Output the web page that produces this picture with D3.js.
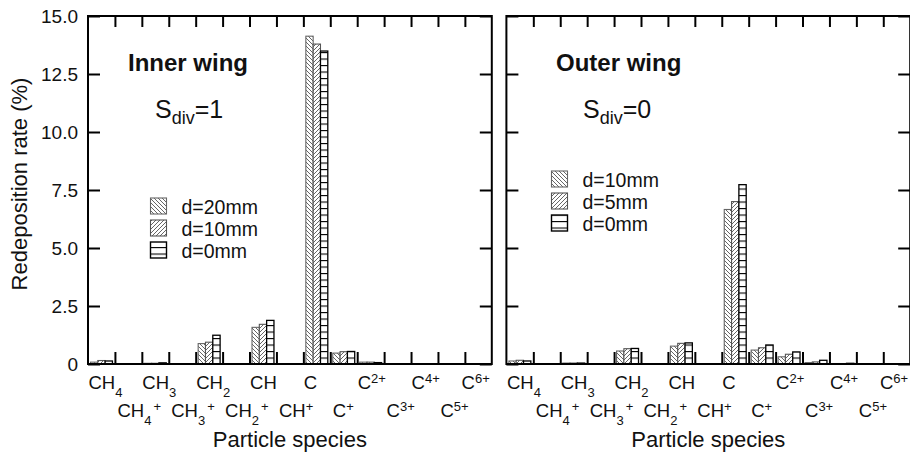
<!DOCTYPE html>
<html><head><meta charset="utf-8">
<script src="https://cdn.jsdelivr.net/npm/d3@7/dist/d3.min.js"></script>
<style>
html,body{margin:0;padding:0;background:#fff;}
svg{display:block;font-family:"Liberation Sans",Arial,Helvetica,sans-serif;}
</style></head>
<body>
<svg id="chart" width="910" height="457"></svg>
<script>
// ---- data ----
const categories = ["CH4","CH4+","CH3","CH3+","CH2","CH2+","CH","CH+","C","C+","C2+","C3+","C4+","C5+","C6+"];
const labelBase = ["CH","CH","CH","CH","CH","CH","CH","CH","C","C","C","C","C","C","C"];
const labelSub  = ["4","4","3","3","2","2","","","","","","","","",""];
const labelSup  = ["","+","","+","","+","","+","","+","2+","3+","4+","5+","6+"];

const innerSeriesNames = ["d=20mm","d=10mm","d=0mm"];
const innerD20 = [0.08,0,0.03,0,0.88,0,1.58,0,14.13,0.47,0.08,0,0,0,0];
const innerD10 = [0.15,0,0.03,0,0.94,0,1.71,0,13.79,0.53,0.08,0,0,0,0];
const innerD0  = [0.13,0,0.05,0,1.24,0,1.88,0,13.49,0.54,0.06,0,0,0,0];

const outerSeriesNames = ["d=10mm","d=5mm","d=0mm"];
const outerD10 = [0.13,0,0.04,0,0.56,0,0.77,0,6.66,0.60,0.31,0.06,0.02,0,0];
const outerD5  = [0.16,0,0.04,0,0.66,0,0.89,0,7.00,0.70,0.42,0.09,0.02,0,0];
const outerD0  = [0.13,0,0.04,0,0.67,0,0.91,0,7.73,0.82,0.52,0.16,0.03,0,0];

const yTicks = [0,2.5,5,7.5,10,12.5,15];
const yTickLabels = ["0","2.5","5.0","7.5","10.0","12.5","15.0"];

// ---- layout ----
const svg = d3.select("#chart");
const plotTop = 16, plotBottom = 364, panelW = 403.8;
const y = d3.scaleLinear().domain([0,15]).range([plotBottom, plotTop]);

const defs = svg.append("defs");
function hatch(id, pathD, w, h, color, sw){
  const p = defs.append("pattern").attr("id", id).attr("patternUnits","userSpaceOnUse")
    .attr("width", w).attr("height", h);
  p.append("rect").attr("width", w).attr("height", h).attr("fill","#fff");
  p.append("path").attr("d", pathD).attr("stroke", color).attr("stroke-width", sw).attr("fill","none");
}
hatch("hBack", "M0,0 L4,4 M-1,3 L1,5 M3,-1 L5,1", 4, 4, "#555", 0.9);
hatch("hFwd",  "M0,4 L4,0 M-1,1 L1,-1 M3,5 L5,3", 4, 4, "#555", 0.9);
hatch("hHor",  "M0,0.5 L8,0.5", 8, 6.5, "#000", 1.2);
const fills = ["url(#hBack)","url(#hFwd)","url(#hHor)"];
const strokes = ["#666","#555","#000"];

function drawPanel(x0, series, names, title, sdiv, titleX, sdivX, legendX, legendY, showYLabels){
  const g = svg.append("g");
  const x = d3.scaleBand().domain(categories).range([x0, x0+panelW]).padding(0);
  const xs = d3.scaleBand().domain([0,1,2]).range([0, x.bandwidth()]).paddingInner(0).paddingOuter(0.34);
  const xi = d3.scaleLinear().domain([0, categories.length]).range([x0, x0+panelW]);

  // bars
  series.forEach((vals, si) => {
    g.append("g").selectAll("rect").data(vals.map((v,i)=>({v, c: categories[i]})).filter(d=>d.v>0))
      .join("rect")
      .attr("x", d => x(d.c) + xs(si))
      .attr("y", d => y(d.v))
      .attr("width", xs.bandwidth())
      .attr("height", d => y(0) - y(d.v))
      .attr("fill", fills[si])
      .attr("stroke", strokes[si])
      .attr("stroke-width", si===2 ? 1.3 : 1.1);
  });

  // y axes (inward ticks)
  const ya = g.append("g").attr("transform", `translate(${x0},0)`)
    .call(d3.axisLeft(y).tickValues(yTicks).tickSize(-12).tickPadding(10)
      .tickFormat((d,i) => showYLabels ? yTickLabels[i] : ""));
  ya.select(".domain").remove();
  ya.selectAll("line").attr("stroke","#000").attr("stroke-width",2);
  ya.selectAll("text").attr("font-size","19px").attr("fill","#111").attr("font-family","Liberation Sans, Arial, sans-serif");
  const yb = g.append("g").attr("transform", `translate(${x0+panelW},0)`)
    .call(d3.axisRight(y).tickValues(yTicks).tickSize(-12).tickFormat(""));
  yb.select(".domain").remove();
  yb.selectAll("line").attr("stroke","#000").attr("stroke-width",2);

  // x ticks top & bottom at category boundaries
  const bt = d3.range(1, categories.length);
  const xb = g.append("g").attr("transform", `translate(0,${plotBottom})`)
    .call(d3.axisBottom(xi).tickValues(bt).tickSize(-12).tickFormat(""));
  xb.select(".domain").remove();
  xb.selectAll("line").attr("stroke","#000").attr("stroke-width",2);
  const xt = g.append("g").attr("transform", `translate(0,${plotTop})`)
    .call(d3.axisTop(xi).tickValues(bt).tickSize(-11).tickFormat(""));
  xt.select(".domain").remove();
  xt.selectAll("line").attr("stroke","#000").attr("stroke-width",2);

  // frame
  g.append("rect").attr("x", x0).attr("y", plotTop).attr("width", panelW).attr("height", plotBottom-plotTop)
    .attr("fill","none").attr("stroke","#000").attr("stroke-width",2);

  // category labels (start-aligned to the band, kept inside the frame)
  categories.forEach((c, i) => {
    const row = i % 2;
    const t = g.append("text")
      .attr("x", x(c) + (row === 0 ? 0.5 : 2.5))
      .attr("y", row === 0 ? 389 : 417)
      .attr("font-size","18.5px").attr("fill","#111");
    t.append("tspan").text(labelBase[i]);
    let dy = 0;
    if (labelSub[i]) { t.append("tspan").attr("font-size","13px").attr("dy", 7.5).text(labelSub[i]); dy = 7.5; }
    if (labelSup[i]) {
      t.append("tspan").attr("font-size","13px").attr("dx", labelSub[i] ? 2 : 0)
        .attr("dy", -dy - 6).text(labelSup[i]);
    }
    const w = t.node().getComputedTextLength() + (labelSub[i] && labelSup[i] ? 2 : 0);
    const xStart = +t.attr("x");
    const maxStart = x0 + panelW - 2 - w;
    if (xStart > maxStart) t.attr("x", maxStart);
  });

  // x axis title
  g.append("text").attr("x", x0 + panelW/2).attr("y", 447).attr("text-anchor","middle")
    .attr("font-size","22px").attr("fill","#111").text("Particle species");

  // title
  g.append("text").attr("x", titleX).attr("y", 70.5).attr("font-size","24px").attr("font-weight","bold")
    .attr("fill","#111").text(title);
  const st = g.append("text").attr("x", sdivX).attr("y", 118).attr("font-size","25px").attr("fill","#111");
  st.append("tspan").text("S");
  st.append("tspan").attr("font-size","18px").attr("dy", 5.5).text("div");
  st.append("tspan").attr("dy", -5.5).text("=" + sdiv);

  // legend
  names.forEach((n, i) => {
    const ly = legendY + i*22;
    g.append("rect").attr("x", legendX).attr("y", ly - 16).attr("width", 16).attr("height", 16)
      .attr("fill", fills[i]).attr("stroke", strokes[i]).attr("stroke-width", i===2?1.4:1.1);
    g.append("text").attr("x", legendX + 31).attr("y", ly).attr("font-size","19.5px").attr("fill","#111").text(n);
  });
}

drawPanel(88, [innerD20, innerD10, innerD0], innerSeriesNames, "Inner wing", 1, 128, 155, 150.5, 214, true);
drawPanel(506.4, [outerD10, outerD5, outerD0], outerSeriesNames, "Outer wing", 0, 556, 583, 551.5, 187, false);

// y axis title
svg.append("text").attr("transform", "translate(26.5,184) rotate(-90)").attr("text-anchor","middle")
  .attr("font-size","22px").attr("fill","#111").text("Redeposition rate (%)");
</script>
</body></html>
